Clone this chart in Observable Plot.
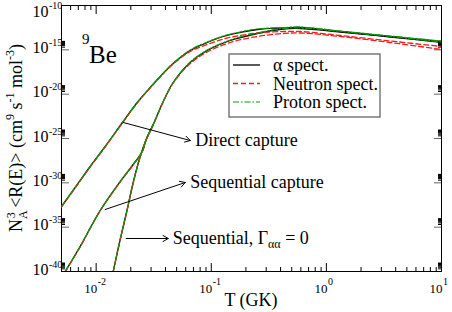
<!DOCTYPE html>
<html><head><meta charset="utf-8">
<script src="https://cdn.jsdelivr.net/npm/d3@7"></script>
<script src="https://cdn.jsdelivr.net/npm/@observablehq/plot@0.6"></script>
<style>body{margin:0;background:#fff} svg{display:block}</style>
</head><body><div id="chart"></div>
<script>
// ---- data (T in GK, rate N_A^3<R(E)>) ----
const directT = [0.005, 0.00657, 0.00887, 0.01197, 0.01717, 0.02273, 0.02948, 0.036, 0.04672, 0.06567, 0.0923, 0.1272, 0.1788, 0.2512, 0.4227, 0.5941, 1.323, 3.601, 10];
const directAlpha   = [2.14e-33, 2.98e-31, 6.95e-29, 1.25e-26, 8.26e-24, 1.15e-21, 5.65e-20, 9.82e-19, 2.88e-17, 8.41e-16, 6.71e-15, 3.19e-14, 9.02e-14, 1.96e-13, 2.90e-13, 3.30e-13, 1.17e-13, 3.19e-14, 8.71e-15];
const directNeutron = [1.88e-33, 2.61e-31, 6.11e-29, 1.10e-26, 7.26e-24, 1.01e-21, 4.95e-20, 8.63e-19, 2.52e-17, 6.49e-16, 4.00e-15, 1.67e-14, 4.14e-14, 7.91e-14, 1.17e-13, 1.17e-13, 4.14e-14, 9.91e-15, 2.38e-15];
const directProton  = [2.14e-33, 2.98e-31, 6.95e-29, 1.25e-26, 8.26e-24, 1.15e-21, 5.65e-20, 9.82e-19, 3.27e-17, 9.57e-16, 7.64e-15, 3.63e-14, 1.03e-13, 2.24e-13, 3.30e-13, 3.76e-13, 1.33e-13, 3.63e-14, 9.91e-15];

const seqT = [0.00538, 0.00726, 0.01083, 0.01617, 0.02098, 0.02512, 0.02721, 0.03131, 0.03825, 0.04672, 0.06567, 0.0923, 0.1463, 0.2512, 0.4227, 0.5941, 1.323, 3.601, 10];
const seqAlpha   = [1e-40, 6.61e-38, 7.59e-34, 1.41e-30, 1.17e-28, 3.42e-27, 7.71e-26, 3.79e-24, 1.49e-21, 2.07e-19, 3.72e-17, 8.41e-16, 1.13e-14, 6.95e-14, 2.24e-13, 2.55e-13, 1.03e-13, 2.80e-14, 6.71e-15];
const seqNeutron = [8.79e-41, 5.79e-38, 6.65e-34, 1.24e-30, 1.03e-28, 3.00e-27, 6.78e-26, 3.33e-24, 1.31e-21, 1.82e-19, 2.88e-17, 5.70e-16, 6.71e-15, 3.19e-14, 6.95e-14, 7.91e-14, 3.19e-14, 6.71e-15, 1.09e-15];
const seqProton  = [1e-40, 6.61e-38, 7.59e-34, 1.41e-30, 1.17e-28, 3.42e-27, 7.71e-26, 3.79e-24, 1.49e-21, 2.07e-19, 4.25e-17, 9.57e-16, 1.29e-14, 7.91e-14, 2.55e-13, 2.90e-13, 1.17e-13, 3.19e-14, 7.64e-15];

const gam0T = [0.01406, 0.01617, 0.01861, 0.02098, 0.02413, 0.02721, 0.03131];
const gam0Alpha   = [1e-40, 4.06e-37, 9.82e-34, 1.09e-30, 9.33e-28, 7.71e-26, 3.79e-24];
const gam0Neutron = [8.79e-41, 3.57e-37, 8.63e-34, 9.57e-31, 8.20e-28, 6.78e-26, 3.33e-24];
const gam0Proton  = [1e-40, 4.06e-37, 9.82e-34, 1.09e-30, 9.33e-28, 7.71e-26, 3.79e-24];

// ---- ticks ----
const xMajor = [0.01, 0.1, 1, 10];
const xTickExp = ["-2", "-1", "0", "1"];
const xMinor = [0.006,0.007,0.008,0.009, 0.02,0.03,0.04,0.05,0.06,0.07,0.08,0.09, 0.2,0.3,0.4,0.5,0.6,0.7,0.8,0.9, 2,3,4,5,6,7,8,9];
const yMajor = [1e-40, 1e-35, 1e-30, 1e-25, 1e-20, 1e-15, 1e-10];
const yTickExp = ["-40", "-35", "-30", "-25", "-20", "-15", "-10"];
const yMinorMult = [2,3,4,5,6,7,8,9];

// ---- annotations ----
const annotations = [
  {label: "Direct capture",     tailT: 0.0172,  tailR: 6.4e-24, headT: 0.0657, headR: 5.9e-26, textT: 0.0726},
  {label: "Sequential capture", tailT: 0.01197, tailR: 9.8e-34, headT: 0.0594, headR: 1.09e-30, textT: 0.0657},
  {label: "Sequential, Γ",      tailT: 0.01824, tailR: 5.27e-37, headT: 0.0423, headR: 5.27e-37, textT: 0.0467}
];

// ---- build tables ----
function rows(T, R, proc) { return T.map((t, i) => ({T: t, R: R[i], proc})); }
const alphaRows   = [...rows(directT, directAlpha, "d"), ...rows(seqT, seqAlpha, "s"), ...rows(gam0T, gam0Alpha, "g")];
const neutronRows = [...rows(directT, directNeutron, "d"), ...rows(seqT, seqNeutron, "s"), ...rows(gam0T, gam0Neutron, "g")];
const protonRows  = [...rows(directT, directProton, "d"), ...rows(seqT, seqProton, "s"), ...rows(gam0T, gam0Proton, "g")];
const yTicks = yMajor.map((v, i) => ({v, exp: yTickExp[i]}));
const xTicks = xMajor.map((v, i) => ({v, exp: xTickExp[i]}));
const yMinor = yMajor.slice(0, -1).flatMap(m => yMinorMult.map(k => k * m));

const FONT = "Liberation Serif";
const noText = () => "";

const svg = Plot.plot({
  width: 452, height: 312,
  marginLeft: 61, marginRight: 11, marginTop: 5, marginBottom: 41,
  style: {fontFamily: FONT, background: "white", color: "black"},
  x: {type: "log", domain: [0.005, 10]},
  y: {type: "log", domain: [1e-40, 1e-10]},
  marks: [
    Plot.axisX({anchor: "bottom", ticks: xMajor, tickSize: -8, tickFormat: noText, label: null}),
    Plot.axisX({anchor: "bottom", ticks: xMinor, tickSize: -4, tickFormat: noText, label: null}),
    Plot.axisX({anchor: "top", ticks: xMajor, tickSize: -8, tickFormat: noText, label: null}),
    Plot.axisX({anchor: "top", ticks: xMinor, tickSize: -4, tickFormat: noText, label: null}),
    Plot.axisY({anchor: "left", ticks: yMajor, tickSize: -8, tickFormat: noText, label: null, stroke: "#666"}),
    Plot.axisY({anchor: "left", ticks: yMinor, tickSize: -4, tickFormat: noText, label: null}),
    Plot.axisY({anchor: "right", ticks: yMajor, tickSize: -8, tickFormat: noText, label: null, stroke: "#666"}),
    Plot.axisY({anchor: "right", ticks: yMinor, tickSize: -4, tickFormat: noText, label: null}),
    Plot.frame({stroke: "black", strokeWidth: 1}),
    Plot.line(alphaRows, {x: "T", y: "R", z: "proc", stroke: "black", strokeWidth: 1.3, curve: "catmull-rom", clip: true}),
    Plot.line(neutronRows, {x: "T", y: "R", z: "proc", stroke: "#ff1a1a", strokeWidth: 1.3, strokeDasharray: "5,3", curve: "catmull-rom", clip: true}),
    Plot.line(protonRows, {x: "T", y: "R", z: "proc", stroke: "#0a9a0a", strokeWidth: 1.2, strokeDasharray: "6,2,1.5,2", curve: "catmull-rom", clip: true}),
    Plot.arrow(annotations, {x1: "tailT", y1: "tailR", x2: "headT", y2: "headR", stroke: "black", strokeWidth: 1, headLength: 9, insetEnd: 0}),
    Plot.text(annotations.slice(0, 2), {x: "textT", y: "headR", text: "label", textAnchor: "start", fontSize: 18, fill: "black"}),
    // y tick labels
    Plot.text(yTicks.slice(0, -1), {y: "v", text: () => "10", frameAnchor: "left", textAnchor: "end", lineAnchor: "bottom", dx: -13, dy: 3, fontSize: 16, fill: "black"}),
    Plot.text(yTicks.slice(0, -1), {y: "v", text: "exp", frameAnchor: "left", textAnchor: "start", lineAnchor: "bottom", dx: -12.5, dy: -4, fontSize: 10, fill: "black"}),
    Plot.text(yTicks.slice(-1), {y: "v", text: () => "10", frameAnchor: "left", textAnchor: "end", lineAnchor: "bottom", dx: -13, dy: 11.7, fontSize: 16, fill: "black"}),
    Plot.text(yTicks.slice(-1), {y: "v", text: "exp", frameAnchor: "left", textAnchor: "start", lineAnchor: "bottom", dx: -12.5, dy: 3.5, fontSize: 10, fill: "black"}),
    // x tick labels
    Plot.text(xTicks, {x: "v", text: () => "10", frameAnchor: "bottom", textAnchor: "end", lineAnchor: "bottom", dx: 1, dy: 21, fontSize: 13, fill: "black"}),
    Plot.text(xTicks, {x: "v", text: "exp", frameAnchor: "bottom", textAnchor: "start", lineAnchor: "bottom", dx: 1.5, dy: 13, fontSize: 10, fill: "black"})
  ]
});

const sx = svg.scale("x"), sy = svg.scale("y");
const g = d3.select(svg).append("g").attr("font-family", FONT).attr("fill", "black").attr("text-anchor", "start");

// Γαα annotation with subscript
const ga = annotations[2];
const gt = g.append("text").attr("x", sx.apply(ga.textT)).attr("y", sy.apply(ga.headR) + 6).attr("font-size", 18);
gt.append("tspan").text(ga.label);
gt.append("tspan").attr("font-size", 12).attr("dy", 4).text("αα");
gt.append("tspan").attr("dy", -4).text(" = 0");

// x axis title
g.append("text").attr("x", (sx.range[0] + sx.range[1]) / 2).attr("y", 306)
  .attr("text-anchor", "middle").attr("font-size", 18).text("T (GK)");

// y axis title
const yt = g.append("text").attr("transform", `translate(22,${(sy.range[0] + sy.range[1]) / 2}) rotate(-90)`)
  .attr("text-anchor", "middle").attr("font-size", 18);
yt.append("tspan").text("N");
yt.append("tspan").attr("font-size", 12).attr("dy", 5).text("A");
yt.append("tspan").attr("font-size", 12).attr("dx", -8).attr("dy", -12).text("3");
yt.append("tspan").attr("dy", 7).text(" <R(E)> (cm");
yt.append("tspan").attr("font-size", 12).attr("dy", -8).text("9");
yt.append("tspan").attr("dy", 8).text(" s");
yt.append("tspan").attr("font-size", 12).attr("dy", -8).text("-1");
yt.append("tspan").attr("dy", 8).text(" mol");
yt.append("tspan").attr("font-size", 12).attr("dy", -8).text("-3");
yt.append("tspan").attr("dy", 8).text(")");

// 9Be label
g.append("text").attr("x", 82).attr("y", 44).attr("font-size", 15).text("9");
g.append("text").attr("x", 89).attr("y", 63).attr("font-size", 25).text("Be");

// legend
const leg = g.append("g");
leg.append("rect").attr("x", 229).attr("y", 54).attr("width", 151).attr("height", 63)
  .attr("fill", "white").attr("stroke", "#666").attr("stroke-width", 1.3);
const legItems = [
  {label: "α spect.", stroke: "black", dash: null, w: 1.3},
  {label: "Neutron spect.", stroke: "#ff1a1a", dash: "5,3", w: 1.3},
  {label: "Proton spect.", stroke: "#0a9a0a", dash: "6,2,1.5,2", w: 1.2}
];
legItems.forEach((d, i) => {
  const yy = 65 + i * 18.5;
  leg.append("line").attr("x1", 233).attr("x2", 260).attr("y1", yy).attr("y2", yy)
    .attr("stroke", d.stroke).attr("stroke-width", d.w).attr("stroke-dasharray", d.dash);
  leg.append("text").attr("x", 273).attr("y", yy + 6).attr("font-size", 18).text(d.label);
});

document.getElementById("chart").append(svg);
</script></body></html>
